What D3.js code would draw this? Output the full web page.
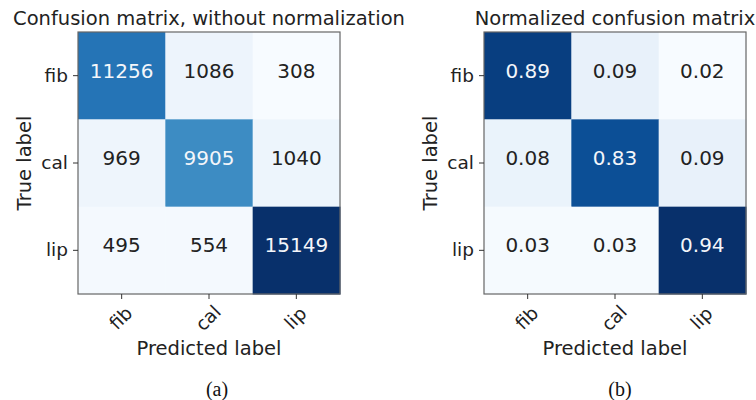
<!DOCTYPE html>
<html>
<head>
<meta charset="utf-8">
<script src="https://cdn.jsdelivr.net/npm/d3@7"></script>
<style>
  body { margin: 0; background: #fff; }
  text { font-family: "DejaVu Sans", sans-serif; }
</style>
</head>
<body>
<div id="chart"></div>
<script>
// class names, same order for rows (true) and columns (predicted)
var classes = ["fib", "cal", "lip"];

// raw counts, one row per true label
var countsFib = [11256, 1086, 308];
var countsCal = [969, 9905, 1040];
var countsLip = [495, 554, 15149];

// normalized values as printed
var normFib = [0.89, 0.09, 0.02];
var normCal = [0.08, 0.83, 0.09];
var normLip = [0.03, 0.03, 0.94];

var titles = ["Confusion matrix, without normalization", "Normalized confusion matrix"];
var captions = ["(a)", "(b)"];

function start(){
    var width = 756, height = 400;
    var svg = d3.select("#chart").append("svg")
                .attr("width", width)
                .attr("height", height);

    drawMatrix(svg, [countsFib, countsCal, countsLip], {
        left: 78, top: 32, size: 262,
        title: titles[0], caption: captions[0], captionX: 217,
        format: d3.format("d")
    });
    drawMatrix(svg, [normFib, normCal, normLip], {
        left: 484, top: 32, size: 262,
        title: titles[1], caption: captions[1], captionX: 620,
        format: d3.format(".2f")
    });
}

function drawMatrix(svg, rows, opt){
    var cells = [];
    rows.forEach(function(r, i){
        r.forEach(function(v, j){
            cells.push({row: classes[i], col: classes[j], value: v});
        });
    });
    var minV = d3.min(cells, d => d.value);
    var maxV = d3.max(cells, d => d.value);
    var thresh = maxV / 2;

    var x = d3.scaleBand().domain(classes).range([opt.left, opt.left + opt.size]);
    var y = d3.scaleBand().domain(classes).range([opt.top, opt.top + opt.size]);
    var color = d3.scaleSequential(d3.interpolateBlues).domain([minV, maxV]);

    var g = svg.append("g");

    g.selectAll("rect.cell")
     .data(cells)
     .enter().append("rect")
     .attr("class", "cell")
     .attr("x", d => x(d.col))
     .attr("y", d => y(d.row))
     .attr("width", x.bandwidth() + 0.5)
     .attr("height", y.bandwidth() + 0.5)
     .attr("fill", d => color(d.value));

    g.selectAll("text.val")
     .data(cells)
     .enter().append("text")
     .attr("class", "val")
     .attr("x", d => x(d.col) + x.bandwidth() / 2)
     .attr("y", d => y(d.row) + y.bandwidth() / 2 - 5)
     .attr("text-anchor", "middle")
     .attr("dominant-baseline", "central")
     .style("font-size", "20px")
     .attr("fill", d => d.value > thresh ? "#f4f6fa" : "#222")
     .text(d => opt.format(d.value));

    // frame
    g.append("rect")
     .attr("x", opt.left)
     .attr("y", opt.top)
     .attr("width", opt.size)
     .attr("height", opt.size)
     .attr("fill", "none")
     .attr("stroke", "#666")
     .attr("stroke-width", 1.2);

    var yAxis = g.append("g")
     .attr("transform", "translate(" + opt.left + ",0)")
     .call(d3.axisLeft(y).tickSize(5).tickPadding(5));
    yAxis.select(".domain").remove();
    yAxis.selectAll("line").attr("stroke", "#333");
    yAxis.selectAll("text")
     .style("font-size", "18.5px")
     .style("font-family", "DejaVu Sans")
     .attr("fill", "#222");

    var xAxis = g.append("g")
     .attr("transform", "translate(0," + (opt.top + opt.size) + ")")
     .call(d3.axisBottom(x).tickSize(5).tickPadding(3));
    xAxis.select(".domain").remove();
    xAxis.selectAll("line").attr("stroke", "#333");
    xAxis.selectAll("text")
     .style("font-size", "18.5px")
     .style("font-family", "DejaVu Sans")
     .attr("fill", "#222")
     .attr("text-anchor", "middle")
     .attr("dy", null)
     .attr("dominant-baseline", "central")
     .attr("y", 0)
     .attr("transform", "translate(-1,24) rotate(-45)");

    var cx = opt.left + opt.size / 2;

    g.append("text")
     .attr("x", cx)
     .attr("y", 25)
     .attr("text-anchor", "middle")
     .style("font-size", "19.5px")
     .attr("fill", "#222")
     .text(opt.title);

    g.append("text")
     .attr("transform", "translate(" + (opt.left - 47) + "," + (opt.top + opt.size / 2) + ") rotate(-90)")
     .attr("text-anchor", "middle")
     .style("font-size", "19.5px")
     .attr("fill", "#222")
     .text("True label");

    g.append("text")
     .attr("x", cx)
     .attr("y", 355)
     .attr("text-anchor", "middle")
     .style("font-size", "19.5px")
     .attr("fill", "#222")
     .text("Predicted label");

    g.append("text")
     .attr("x", opt.captionX)
     .attr("y", 396)
     .attr("text-anchor", "middle")
     .style("font-family", "Liberation Serif")
     .style("font-size", "20px")
     .attr("fill", "#111")
     .text(opt.caption);
}

start()
</script>
</body>
</html>
